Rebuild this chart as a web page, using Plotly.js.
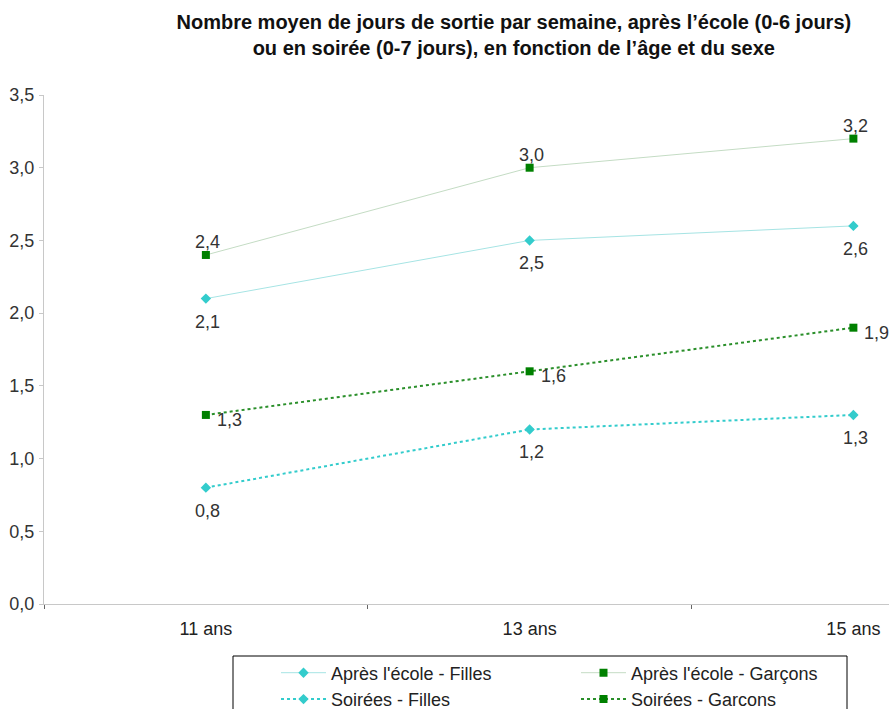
<!DOCTYPE html>
<html>
<head>
<meta charset="utf-8">
<script src="https://cdn.plot.ly/plotly-3.0.1.min.js"></script>
<style>html,body{margin:0;padding:0;background:#fff;}#chart{width:889px;height:709px;}</style>
</head>
<body>
<div id="chart"></div>
<script>
const ages = ["11 ans", "13 ans", "15 ans"];
const ecoleFilles = [2.1, 2.5, 2.6];
const ecoleGarcons = [2.4, 3.0, 3.2];
const soireesFilles = [0.8, 1.2, 1.3];
const soireesGarcons = [1.3, 1.6, 1.9];
const seriesNames = ["Après l'école - Filles", "Après l'école - Garçons", "Soirées - Filles", "Soirées - Garcons"];
const yTicks = [0, 0.5, 1, 1.5, 2, 2.5, 3, 3.5];

const fmt = v => v.toFixed(1).replace('.', ',');
const font = "Liberation Sans, Arial, sans-serif";

const traces = [
  {x: ages, y: ecoleFilles, name: seriesNames[0], mode: 'lines+markers',
   line: {color: '#a6e4e4', width: 1}, marker: {symbol: 'diamond', size: 8, color: '#33cccc'}},
  {x: ages, y: ecoleGarcons, name: seriesNames[1], mode: 'lines+markers',
   line: {color: '#c4dcc4', width: 1}, marker: {symbol: 'square', size: 8, color: '#008000'}},
  {x: ages, y: soireesFilles, name: seriesNames[2], mode: 'lines+markers',
   line: {color: '#33cccc', width: 2, dash: 'dot'}, marker: {symbol: 'diamond', size: 8, color: '#33cccc'}},
  {x: ages, y: soireesGarcons, name: seriesNames[3], mode: 'lines+markers',
   line: {color: '#2a8f2a', width: 2, dash: 'dot'}, marker: {symbol: 'square', size: 8, color: '#008000'}}
];

const labelStyle = [
  {yshift: -23, xshift: 2, xanchor: 'center'},
  {yshift: 13, xshift: 2, xanchor: 'center'},
  {yshift: -23, xshift: 2, xanchor: 'center'},
  {yshift: -5, xshift: 9, xanchor: 'left'}
];
const allSeries = [ecoleFilles, ecoleGarcons, soireesFilles, soireesGarcons];
const annotations = [];
allSeries.forEach((vals, s) => {
  vals.forEach((v, i) => {
    annotations.push(Object.assign({x: ages[i], y: v, xref: 'x', yref: 'y', text: fmt(v), showarrow: false,
      yanchor: 'middle', font: {family: font, size: 18, color: '#333'}}, labelStyle[s]));
  });
});

const layout = {
  width: 889, height: 709,
  margin: {l: 44, r: 0, t: 95, b: 105, autoexpand: false},
  paper_bgcolor: '#fff', plot_bgcolor: '#fff',
  title: {text: "Nombre moyen de jours de sortie par semaine, après l’école (0-6 jours)<br>ou en soirée (0-7 jours), en fonction de l’âge et du sexe",
    font: {family: font, size: 20, color: '#111', weight: 'bold'},
    xref: 'container', x: 0.578, xanchor: 'center', yref: 'container', y: 1 - 28.5 / 709, yanchor: 'top'},
  xaxis: {type: 'category', range: [-0.5, 2.11], tickson: 'boundaries', ticks: 'outside', ticklen: 4,
    tickcolor: '#666', showline: true, linecolor: '#c8c8c8', showgrid: false, zeroline: false,
    tickfont: {family: font, size: 18, color: '#222'}, ticklabelstandoff: 8},
  yaxis: {range: [0, 3.5], tickvals: yTicks, ticktext: yTicks.map(fmt), ticks: 'outside', ticklen: 4,
    tickcolor: '#c8c8c8', showline: true, linecolor: '#c8c8c8', showgrid: false, zeroline: false,
    tickfont: {family: font, size: 18, color: '#333'}, ticklabelstandoff: 1},
  showlegend: true,
  legend: {orientation: 'h', x: (276 - 44) / 845, xanchor: 'left', y: -(654.5 - 604) / 509, yanchor: 'top',
    entrywidth: 240, entrywidthmode: 'pixels', traceorder: 'normal', itemwidth: 45,
    font: {family: font, size: 18, color: '#222'}, bgcolor: 'rgba(0,0,0,0)', borderwidth: 0, tracegroupgap: 0},
  shapes: [{type: 'rect', xref: 'paper', yref: 'paper', x0: (233 - 44) / 845, x1: (847 - 44) / 845,
    y0: -(656 - 604) / 509, y1: -(720 - 604) / 509, line: {color: '#000', width: 1}, fillcolor: 'rgba(0,0,0,0)'}],
  annotations: annotations
};

Plotly.newPlot('chart', traces, layout, {displayModeBar: false, staticPlot: true});
</script>
</body>
</html>
